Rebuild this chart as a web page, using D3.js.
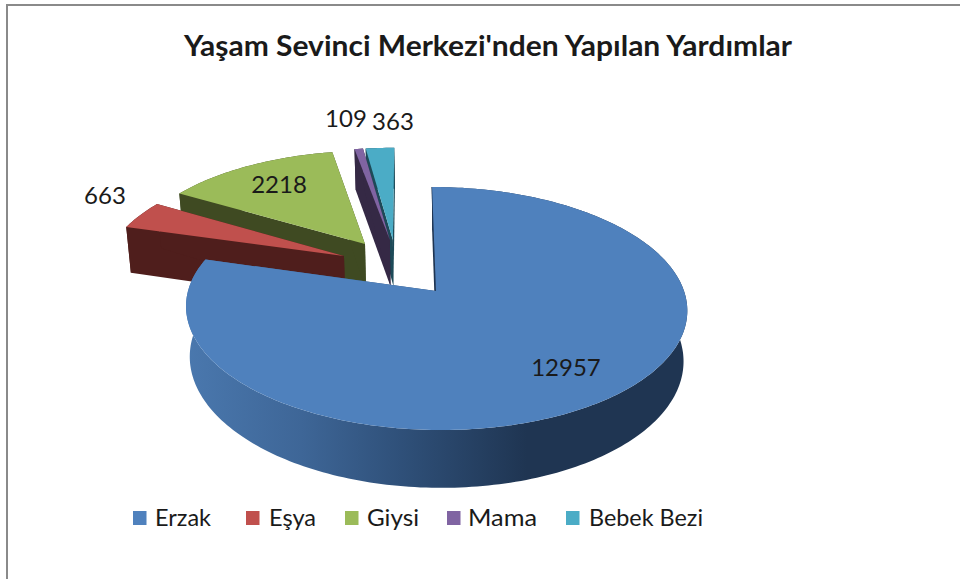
<!DOCTYPE html>
<html><head><meta charset="utf-8">
<script src="https://cdn.jsdelivr.net/npm/d3@7"></script>
<style>html,body{margin:0;background:#fff}svg{display:block}text{font-family:Lato,"Open Sans",sans-serif;fill:#1a1a1a}</style>
</head><body><svg id="c" width="960" height="579"></svg>
<script>
const titleText = "Yaşam Sevinci Merkezi'nden Yapılan Yardımlar";
const categories = ["Erzak","Eşya","Giysi","Mama","Bebek Bezi"];
const values = [12957,663,2218,109,363];
const topColors = ["#4f81bd","#c0504d","#9bbb59","#8064a2","#4bacc6"];
const wallColors = ["url(#erzakWall)","#4f1e1c","#3f4a22","#352945","#1d4a58"];

// plane offset of each exploded slice, in pie radii
const explode = [[0,0],[-.382,.307],[-.296,.419],[-.19,.456],[-.177,.456]];
const labelPos = [[566,370],[105,198],[279,187],[346,121],[393,124]];
const legendX = [[133,155],[246,269],[345,367],[447,468],[566,589]];
const legendW = [56,47,52,69,114];

const svg = d3.select("#c");
const defs = svg.append("defs");
const g = defs.append("linearGradient").attr("id","erzakWall").attr("gradientUnits","userSpaceOnUse")
  .attr("x1",186).attr("x2",687).attr("y1",0).attr("y2",0);
[[0,"#4a78ae"],[.23,"#3e6697"],[.43,"#2f5079"],[.68,"#1f3552"],[1,"#1f3552"]]
  .forEach(s=>g.append("stop").attr("offset",s[0]).attr("stop-color",s[1]));

// perspective ground-plane projection
const X0=436, Y0=291, RX=248, KY=119, P=.144, SHEAR=4.5, DEPTH=49.5, BOTTOM=.985;
function project(u,v,low){
  const w=1+P*v;
  const k=low?BOTTOM:1;
  return [X0+k*(RX*u-SHEAR*v)/w, Y0-KY*v/w+(low?DEPTH/w:0)];
}
const line=d3.line();
const pie=d3.pie().sort(null).startAngle(0).endAngle(2*Math.PI)(values);

function rim(d,off,low){
  const n=Math.max(2,Math.ceil((d.endAngle-d.startAngle)/.02));
  return d3.range(n+1).map(i=>{
    const a=d.startAngle+(d.endAngle-d.startAngle)*i/n;
    return project(off[0]+Math.sin(a),off[1]+Math.cos(a),low);
  });
}
// border
svg.append("path").attr("d","M7,579V5H960").attr("fill","none").attr("stroke","#8a8a8a").attr("stroke-width",2);

// back to front
[4,3,2,1,0].forEach(i=>{
  const d=pie[i], off=explode[i];
  const t=rim(d,off,false), b=rim(d,off,true);
  const at=project(off[0],off[1],false), ab=project(off[0],off[1],true);
  const wall=svg.append("g");
  wall.append("path").attr("d",line([...t,...b.slice().reverse()])+"Z").attr("fill",wallColors[i]);
  wall.append("path").attr("d",line([at,t[0],b[0],ab])+"Z").attr("fill",i?wallColors[i]:"#1f3552");
  wall.append("path").attr("d",line([at,t[t.length-1],b[b.length-1],ab])+"Z").attr("fill",wallColors[i]);
  if(i===0) svg.append("path").attr("d",line([t[0],[at[0],at[1]]])).attr("stroke","#1f3552").attr("stroke-width",1.4).attr("fill","none");
  svg.append("path").attr("d",line([at,...t])+"Z").attr("fill",topColors[i]);
});

svg.append("text").attr("x",488).attr("y",49).attr("text-anchor","middle").attr("dominant-baseline","middle")
  .attr("font-size",29).attr("font-weight",700).attr("textLength",608).attr("lengthAdjust","spacingAndGlyphs").text(titleText);

svg.selectAll("text.v").data(values).join("text").attr("class","v")
  .attr("x",(d,i)=>labelPos[i][0]).attr("y",(d,i)=>labelPos[i][1])
  .attr("text-anchor","middle").attr("dominant-baseline","middle").attr("font-size",24).text(d=>d);

const lg=svg.selectAll("g.l").data(categories).join("g").attr("class","l");
lg.append("rect").attr("x",(d,i)=>legendX[i][0]).attr("y",511).attr("width",13.5).attr("height",14).attr("fill",(d,i)=>topColors[i]);
lg.append("text").attr("x",(d,i)=>legendX[i][1]).attr("y",520).attr("dominant-baseline","middle").attr("font-size",24)
  .attr("textLength",(d,i)=>legendW[i]).attr("lengthAdjust","spacingAndGlyphs").text(d=>d);
</script></body></html>
